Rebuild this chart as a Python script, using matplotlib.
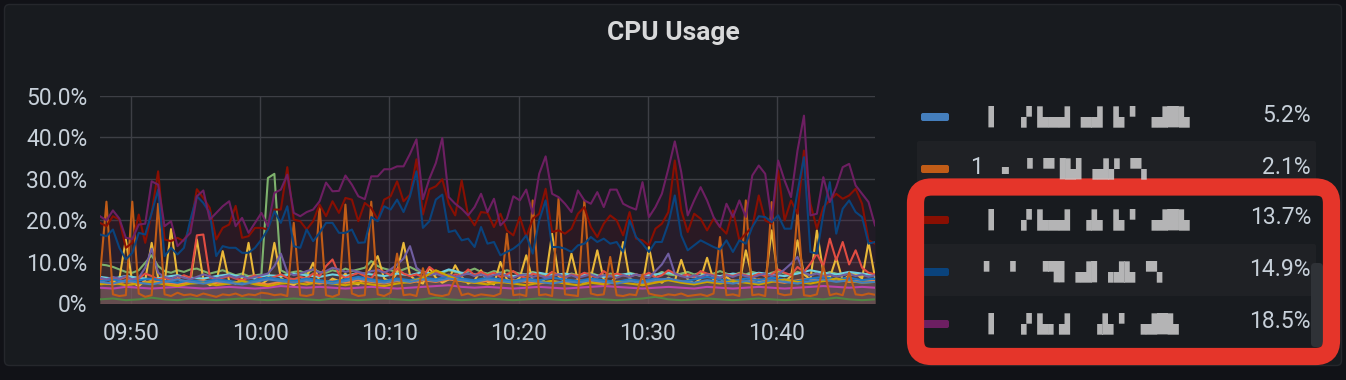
import numpy as np
import pandas as pd
import matplotlib
import matplotlib.pyplot as plt
import matplotlib.dates as mdates
from matplotlib.patches import FancyBboxPatch

plt.switch_backend('Agg')

# ---- data (CPU %) ----
# 30 s samples starting 09:47:36
t_fast = pd.date_range('2021-06-01 09:47:36', periods=121, freq='30s')
# 60 s samples for the quiet background series
t_slow = pd.date_range('2021-06-01 09:47:36', periods=61, freq='60s')

green = [9.4, 9.2, 8.8, 8.2, 7.6, 7.4, 8.0, 9.8, 11.6, 9.0,
         7.8, 7.4, 8.0, 7.6, 8.2, 8.4, 7.8, 7.2, 7.6, 8.0,
         7.4, 6.8, 7.2, 6.6, 6.8, 7.0, 30.2, 31.2, 8.0, 7.2,
         7.6, 7.8, 7.2, 8.2, 7.6, 7.4, 8.0, 7.6, 8.4, 7.8,
         8.2, 8.6, 10.2, 9.0, 8.4, 8.0, 7.6, 8.2, 8.8, 8.0,
         7.6, 7.2, 7.8, 7.4, 8.0, 7.6, 7.2, 7.8, 8.4, 7.6,
         7.2, 7.8, 7.4, 8.0, 7.6, 7.2, 7.0, 7.6, 7.2, 6.8,
         7.4, 7.0, 6.6, 7.2, 6.8, 7.0, 7.4, 6.8, 6.6, 7.2,
         7.0, 6.8, 7.4, 7.0, 6.6, 7.2, 6.8, 7.6, 7.0, 6.8,
         7.2, 7.6, 7.0, 7.4, 6.8, 7.2, 7.8, 7.2, 6.8, 7.4,
         7.0, 7.6, 7.2, 6.8, 7.4, 7.8, 7.2, 7.0, 7.6, 7.2,
         6.8, 7.4, 7.0, 7.6, 7.2, 6.8, 7.4, 7.0, 6.6, 7.2, 7.0]

yellow = [5.5, 4.8, 5.2, 6.0, 15.4, 5.0, 4.2, 5.6, 14.6, 6.2,
          5.0, 17.9, 6.4, 4.6, 5.2, 15.4, 5.8, 4.4, 5.0, 12.6,
          5.4, 4.8, 6.0, 14.6, 5.2, 4.6, 5.8, 14.6, 6.2, 5.0,
          4.4, 5.6, 6.4, 9.8, 5.2, 4.8, 6.0, 5.4, 7.2, 5.0,
          4.6, 6.2, 8.8, 11.4, 6.0, 5.2, 7.4, 14.6, 6.8, 5.4,
          4.8, 8.6, 6.2, 5.0, 5.8, 9.2, 6.4, 4.8, 5.6, 8.0,
          5.2, 4.6, 10.0, 5.8, 5.0, 6.2, 11.6, 5.4, 4.8, 6.0,
          16.8, 6.6, 5.2, 12.0, 5.6, 4.8, 6.2, 12.8, 5.8, 5.0,
          6.4, 14.8, 6.0, 5.2, 4.6, 13.6, 5.8, 5.0, 6.2, 5.4,
          10.5, 5.8, 4.8, 6.0, 11.0, 5.6, 5.0, 6.4, 5.2, 4.8,
          12.8, 6.2, 5.4, 5.0, 17.6, 6.0, 5.2, 6.6, 15.2, 7.0,
          5.8, 17.6, 7.4, 6.2, 11.0, 5.6, 6.8, 7.2, 6.0, 14.8, 6.2]

cyan = [6.4, 6.0, 6.6, 6.2, 5.8, 6.4, 6.8, 6.2, 6.0, 6.6,
        7.0, 6.4, 6.2, 6.8, 6.6, 7.2, 6.8, 6.4, 7.0, 6.6,
        7.4, 7.0, 6.6, 7.2, 6.8, 7.6, 7.0, 8.2, 7.4, 7.0,
        6.8, 7.2, 6.6, 7.0, 7.4, 6.8, 7.2, 6.6, 7.0, 6.4,
        6.8, 7.2, 6.6, 7.0, 7.4, 6.8, 6.4, 7.0, 6.6, 7.2,
        6.8, 7.4, 7.0, 6.6, 7.2, 8.0, 7.4, 7.0, 7.6, 7.2, 6.8]

light_orange = [5.0, 4.6, 5.2, 4.8, 5.4, 5.0, 4.6, 5.2, 5.6, 5.0,
                4.8, 5.4, 5.0, 4.6, 5.2, 5.8, 5.2, 4.8, 5.4, 5.0,
                5.6, 5.2, 4.8, 5.4, 5.0, 5.6, 5.2, 5.8, 5.4, 5.0,
                5.4, 5.0, 5.6, 5.2, 4.8, 5.4, 5.0, 5.6, 5.2, 4.8,
                5.2, 5.6, 5.0, 5.4, 5.8, 5.2, 4.8, 5.4, 5.0, 5.6,
                5.2, 5.8, 5.4, 5.0, 5.6, 6.0, 5.4, 5.8, 5.2, 5.6, 5.4]

red = [6.0, 5.6, 6.2, 5.8, 6.4, 5.4, 6.0, 7.2, 6.6, 5.8,
       6.2, 5.6, 6.0, 6.8, 6.2, 16.4, 16.6, 6.4, 5.8, 6.2,
       6.6, 6.0, 5.6, 6.2, 6.8, 6.0, 5.8, 6.4, 7.0, 6.2,
       5.8, 6.4, 6.0, 7.2, 6.6, 9.0, 10.6, 7.0, 6.2, 6.8,
       7.4, 6.6, 6.0, 8.2, 7.6, 6.8, 8.4, 7.2, 6.6, 7.0,
       6.4, 8.8, 7.6, 6.8, 6.2, 7.0, 6.6, 8.2, 6.8, 7.6,
       6.8, 7.4, 6.4, 7.0, 7.8, 6.6, 6.2, 7.2, 6.8, 6.4,
       7.6, 6.8, 6.2, 7.0, 6.6, 7.4, 6.8, 6.2, 7.8, 6.6,
       7.2, 6.8, 6.4, 7.0, 6.6, 7.4, 6.2, 6.8, 8.0, 7.2,
       6.6, 7.0, 6.4, 7.8, 7.2, 6.8, 6.2, 7.0, 6.6, 7.2,
       6.8, 6.4, 7.2, 6.6, 7.0, 8.2, 7.4, 6.8, 8.8, 7.6,
       9.6, 12.0, 9.0, 15.6, 10.4, 14.8, 9.4, 12.8, 8.6, 7.4, 7.0]

blue = [5.4, 5.8, 5.2, 5.6, 6.0, 5.4, 5.0, 5.6, 5.2, 5.8,
        5.4, 5.0, 5.6, 6.2, 5.8, 5.4, 6.0, 5.6, 5.2, 5.8,
        6.4, 5.8, 5.4, 6.0, 5.6, 6.2, 5.8, 6.6, 6.0, 5.6,
        6.2, 5.8, 5.4, 6.0, 5.6, 6.2, 5.8, 5.4, 6.0, 5.6,
        5.2, 5.8, 5.4, 6.0, 5.6, 5.2, 5.8, 6.4, 5.8, 5.4,
        6.0, 5.6, 6.2, 5.8, 5.4, 6.0, 6.4, 5.8, 6.2, 5.6, 6.0]

pink = [3.8, 3.6, 4.0, 3.8, 3.6, 3.8, 4.0, 3.8, 3.6, 3.8,
        4.0, 3.8, 3.6, 3.8, 4.2, 4.0, 3.8, 4.0, 3.8, 3.6,
        3.8, 4.0, 3.8, 3.6, 3.8, 4.0, 4.2, 4.4, 4.0, 3.8,
        4.0, 3.8, 3.6, 3.8, 4.0, 3.8, 3.6, 3.8, 4.0, 4.2,
        4.0, 3.8, 3.6, 3.8, 4.0, 3.8, 3.6, 4.0, 3.8, 3.6,
        3.8, 4.0, 3.8, 3.6, 3.8, 4.0, 4.2, 4.0, 3.8, 4.0, 3.8]

violet = [6.2, 5.8, 6.4, 6.0, 6.6, 5.8, 6.2, 8.6, 13.2, 7.4,
          6.4, 6.0, 6.6, 6.2, 5.8, 6.4, 7.0, 6.6, 6.0, 6.4,
          6.8, 6.2, 6.6, 6.0, 6.4, 6.8, 7.2, 9.0, 12.0, 7.6,
          6.8, 7.2, 7.8, 8.2, 7.4, 7.8, 8.6, 8.2, 7.6, 8.0,
          7.6, 7.2, 7.8, 8.0, 7.4, 8.2, 9.4, 10.8, 13.8, 8.6,
          7.4, 6.8, 7.2, 6.6, 7.0, 6.4, 6.8, 7.2, 6.6, 7.0,
          6.4, 6.8, 7.2, 6.6, 6.2, 6.8, 7.0, 6.4, 6.8, 6.2,
          6.6, 7.0, 6.4, 6.8, 6.2, 6.6, 7.0, 6.4, 6.8, 6.6,
          6.2, 6.8, 6.4, 7.0, 6.6, 6.2, 7.8, 9.4, 12.0, 7.2,
          6.6, 6.2, 6.8, 6.4, 7.0, 6.6, 6.2, 6.8, 6.4, 7.0,
          6.6, 6.2, 6.8, 7.2, 6.6, 7.0, 8.2, 9.6, 11.2, 7.4,
          6.8, 7.2, 6.6, 7.0, 6.4, 6.8, 7.2, 6.6, 7.0, 6.4, 6.8]

dark_green = [1.0, 1.2, 0.8, 1.0, 1.4, 1.0, 0.8, 1.2, 1.0, 0.8,
              1.0, 1.2, 1.0, 0.8, 1.0, 1.2, 1.0, 0.8, 1.2, 1.0,
              0.8, 1.0, 1.2, 1.0, 0.8, 1.0, 1.4, 1.0, 0.8, 1.0,
              1.2, 1.0, 0.8, 1.0, 1.2, 1.0, 0.8, 1.0, 1.2, 1.0,
              0.8, 1.0, 1.2, 1.6, 1.0, 0.8, 1.0, 1.2, 1.0, 0.8,
              1.0, 1.2, 1.0, 0.8, 1.0, 1.2, 1.0, 1.4, 1.0, 0.8, 1.0]

mustard = [4.6, 5.0, 4.4, 4.8, 5.2, 4.6, 4.2, 4.8, 5.0, 4.4,
           4.8, 5.4, 4.6, 4.2, 4.8, 5.0, 4.6, 5.2, 4.8, 4.4,
           5.0, 4.6, 4.2, 4.8, 5.2, 6.2, 8.0, 6.6, 5.4, 5.0,
           4.6, 5.2, 4.8, 4.4, 5.0, 5.4, 4.8, 4.4, 5.0, 4.6,
           5.2, 4.8, 4.4, 5.0, 5.6, 5.0, 4.6, 5.2, 4.8, 5.4,
           5.0, 4.6, 5.2, 5.8, 5.2, 4.8, 5.4, 6.0, 5.4, 5.0, 5.2]

steel_blue = [5.2, 4.8, 5.6, 5.0, 4.6, 5.2, 5.8, 5.2, 4.8, 5.4,
              5.0, 4.6, 5.2, 5.8, 5.4, 5.0, 5.6, 5.2, 4.8, 5.4,
              6.0, 5.4, 5.0, 5.6, 5.2, 5.8, 5.4, 6.0, 5.6, 5.2,
              5.8, 5.4, 5.0, 5.6, 5.2, 4.8, 5.4, 5.0, 5.6, 5.2,
              4.8, 5.4, 5.0, 5.6, 6.0, 5.4, 5.0, 5.6, 5.2, 4.8,
              5.4, 5.0, 5.6, 5.2, 4.8, 5.4, 5.8, 5.2, 5.6, 5.0, 5.2]

burnt_orange = [6.6, 24.5, 2.2, 1.8, 2.0, 24.5, 2.4, 1.6, 2.0, 24.0,
                2.2, 1.8, 2.6, 2.0, 2.2, 1.8, 2.4, 2.0, 1.6, 2.2,
                2.0, 2.4, 1.8, 2.2, 2.0, 2.6, 2.4, 2.0, 2.2, 1.8,
                19.4, 2.0, 1.8, 2.2, 23.4, 2.0, 1.6, 2.2, 23.8, 2.4,
                1.8, 2.0, 24.5, 2.2, 1.8, 2.6, 12.0, 2.0, 2.2, 1.8,
                8.5, 2.4, 2.0, 1.8, 2.2, 6.0, 2.0, 2.4, 1.8, 2.2,
                2.0, 1.8, 2.4, 16.8, 2.0, 2.2, 1.8, 24.8, 2.0, 2.2,
                1.8, 25.2, 2.2, 2.0, 1.8, 24.8, 2.4, 2.0, 2.2, 11.2,
                2.0, 1.8, 2.2, 2.0, 7.0, 2.4, 2.0, 1.8, 2.2, 2.0,
                2.4, 1.8, 2.0, 2.2, 1.8, 2.4, 16.0, 2.0, 2.2, 1.8,
                24.8, 2.0, 2.2, 1.8, 24.4, 2.4, 2.0, 2.2, 22.4, 2.0,
                1.8, 2.2, 9.0, 2.0, 2.4, 2.0, 7.5, 2.2, 2.0, 2.4, 2.1]

dark_red = [19.4, 18.6, 21.0, 20.2, 13.4, 14.6, 21.4, 14.6, 21.8, 31.8,
            15.4, 15.0, 15.8, 15.0, 18.6, 27.5, 25.4, 23.0, 15.4, 18.2,
            19.0, 23.5, 15.8, 16.2, 18.2, 18.2, 17.8, 22.6, 22.6, 32.8,
            20.2, 19.8, 17.8, 19.8, 23.8, 21.0, 24.6, 21.8, 25.4, 25.0,
            19.8, 24.2, 23.0, 20.2, 25.0, 25.8, 29.4, 24.6, 26.2, 34.7,
            21.4, 27.5, 28.2, 29.9,
            24.0, 21.2, 29.6, 21.2, 18.8, 22.0, 21.8, 18.4, 21.6, 17.6,
            16.4, 20.8, 16.0, 20.4, 21.6, 27.6, 17.2, 17.6, 16.8, 18.0,
            21.6, 23.2, 18.4, 16.0, 19.2, 21.2, 20.0, 16.4, 22.0, 15.6,
            15.2, 14.0, 18.0, 19.2, 22.0, 34.4, 22.4, 17.2, 21.6, 20.4,
            17.6, 20.4, 18.4, 16.8, 22.4, 15.2, 16.8, 18.4, 26.0, 20.0,
            19.2, 32.0, 20.0, 24.8, 21.6, 36.8, 24.0, 18.0, 23.2, 24.8,
            26.4, 25.2, 26.0, 27.6, 24.0, 15.2, 14.4]

navy = [16.6, 16.2, 17.8, 13.4, 10.6, 12.2, 17.0, 16.6, 21.8, 27.4,
        11.4, 13.4, 11.8, 13.4, 20.2, 25.8, 24.2, 21.8, 11.4, 13.8,
        13.4, 13.4, 12.2, 12.2, 13.4, 15.4, 17.8, 22.2, 19.4, 23.4,
        13.8, 13.4, 17.8, 15.0, 17.0, 19.4, 19.4, 17.0, 17.0, 17.8,
        14.6, 14.7, 20.8, 19.8, 23.4, 22.6, 25.0, 22.0, 25.8, 31.8,
        18.2, 19.8, 25.0, 26.2,
        17.2, 17.6, 15.2, 15.6, 13.6, 18.4, 14.4, 14.8, 11.6, 12.4,
        13.2, 14.4, 16.4, 12.0, 20.0, 24.8, 13.6, 13.6, 13.2, 12.4,
        14.0, 14.4, 16.0, 14.8, 15.6, 14.4, 14.8, 12.4, 20.0, 16.0,
        14.4, 12.4, 14.8, 14.8, 19.2, 26.0, 16.4, 12.8, 14.0, 15.2,
        14.4, 13.6, 13.0, 15.2, 12.4, 15.2, 14.4, 18.4, 21.0, 20.8,
        19.6, 21.2, 18.0, 18.0, 26.8, 35.2, 12.4, 12.0, 21.6, 29.2,
        16.8, 22.8, 24.8, 22.0, 20.8, 14.4, 14.8]

plum = [21.0, 20.0, 22.4, 20.4, 15.8, 15.5, 19.0, 19.2, 29.4, 28.6,
        18.6, 19.8, 13.8, 15.4, 17.0, 25.8, 27.2, 20.2, 21.8, 23.4,
        24.6, 18.6, 20.6, 17.0, 19.4, 21.8, 18.6, 26.6, 27.4, 31.0,
        21.8, 21.0, 22.0, 22.6, 24.6, 29.1, 27.0, 27.1, 30.8, 28.6,
        25.8, 25.1, 30.6, 30.6, 32.3, 32.3, 33.0, 33.0, 36.0, 39.5,
        25.1, 30.0, 33.8, 39.8,
        25.6, 24.0, 22.8, 21.2, 23.2, 26.4, 22.0, 25.2, 18.8, 20.4,
        25.8, 24.8, 27.4, 21.6, 31.2, 35.4, 26.4, 25.6, 24.0, 22.0,
        27.2, 24.8, 24.0, 26.8, 23.2, 27.4, 27.4, 24.0, 23.2, 22.6,
        29.2, 20.8, 23.2, 26.4, 32.4, 39.0, 31.6, 21.2, 24.8, 28.0,
        24.8, 20.8, 18.4, 24.0, 20.8, 24.8, 20.8, 30.8, 33.2, 31.2,
        20.0, 34.4, 29.6, 25.6, 36.8, 45.2, 21.2, 21.6, 30.4, 24.4,
        28.0, 32.8, 33.6, 28.4, 26.4, 24.4, 18.8]

# grafana classic palette, in series order
colors = ['#7EB26D', '#EAB839', '#6ED0E0', '#EF843C', '#E24D42',
          '#1F78C1', '#BA43A9', '#705DA0', '#508642', '#CCA300',
          '#447EBC', '#C15C17', '#890F02', '#0A437C', '#6D1F62']
series = [(t_fast, green), (t_fast, yellow), (t_slow, cyan),
          (t_slow, light_orange), (t_fast, red), (t_slow, blue),
          (t_slow, pink), (t_fast, violet), (t_slow, dark_green),
          (t_slow, mustard), (t_slow, steel_blue), (t_fast, burnt_orange),
          (t_fast, dark_red), (t_fast, navy), (t_fast, plum)]

# legend (last five series, the rest is scrolled away)
legend_colors = colors[10:]
legend_values = ['5.2%', '2.1%', '13.7%', '14.9%', '18.5%']
legend_names = ['\u2590  \u2597\u2598\u2599\u2584\u259f \u2584\u259f \u2599\u259d \u2597\u259f\u2588\u2599',
                '\u25aa \u259d \u2580\u2590\u2599\u258c\u2597\u259f\u259e \u2580\u2596',
                '\u2590  \u2597\u2598\u2599\u2584\u259f \u2597\u2599 \u2599\u259d \u2597\u259f\u2588\u2599',
                '\u2598 \u259d  \u259d\u259c\u258c\u2597\u259f\u258c\u2597\u259f\u2599 \u2580\u2596',
                '\u2590  \u2597\u2598\u2599\u2596\u259f  \u2597\u2599\u259d \u2597\u259f\u2588\u2599']

W, H = 1346, 380
TXT = '#c7d0d9'
FONT = ['Roboto', 'DejaVu Sans']

fig = plt.figure(figsize=(W / 100, H / 100), dpi=100)
fig.patch.set_facecolor('#111217')

# background layer in pixel coordinates
bg = fig.add_axes([0, 0, 1, 1], zorder=0)
bg.set_xlim(0, W)
bg.set_ylim(H, 0)
bg.axis('off')
bg.add_patch(FancyBboxPatch((4.5, 4.5), 1337, 361,
                            boxstyle='round,pad=0,rounding_size=5',
                            facecolor='#181b1f', edgecolor='#25272c', lw=1))
bg.text(673, 33, 'CPU Usage', ha='center', va='center', color='#d8d9da',
        fontsize=19, fontweight='bold', family=FONT)

# legend rows
row_y = [115, 167, 218, 270, 322]
for k in (1, 3):
    bg.add_patch(FancyBboxPatch((917, row_y[k] - 26), 399, 52,
                                boxstyle='round,pad=0,rounding_size=2',
                                facecolor='#1f2125', edgecolor='none'))
for k in range(5):
    bg.add_patch(FancyBboxPatch((921, row_y[k] - 2), 28, 8,
                                boxstyle='round,pad=0,rounding_size=2',
                                facecolor=legend_colors[k], edgecolor='none'))
    bg.text(1311, row_y[k], legend_values[k], ha='right', va='center',
            color=TXT, fontsize=16.5, family=FONT)
    x0 = 1000 if k == 1 else 983
    bg.text(x0, row_y[k] + 1, legend_names[k], ha='left', va='center',
            color='#d0d0d0', alpha=0.85, fontsize=13, family='DejaVu Sans Mono')
bg.text(970, row_y[1] + 1, '1', ha='left', va='center', color=TXT,
        fontsize=16.5, family=FONT)

# scrollbar + red highlight frame
bg.add_patch(FancyBboxPatch((1311, 263), 12, 84,
                            boxstyle='round,pad=0,rounding_size=4',
                            facecolor='#2f3237', edgecolor='none'))
bg.add_patch(FancyBboxPatch((915.5, 187), 416, 169.5,
                            boxstyle='round,pad=0,rounding_size=16',
                            facecolor='none', edgecolor='#e5352a', lw=12.4))

# plot area
ax = fig.add_axes([100 / W, 1 - 303.5 / H, 775 / W, 207.8 / H], zorder=1)
ax.set_facecolor('none')
for (t, v), c in zip(series, colors):
    ax.plot(t, v, color=c, lw=1.5, zorder=3)
    ax.fill_between(t, v, 0, color=c, alpha=0.1, lw=0, zorder=2)

ax.set_xlim(t_fast[0], t_fast[-1])
ax.set_ylim(0, 50)
ax.set_yticks([0, 10, 20, 30, 40, 50])
ax.set_yticklabels(['0%', '10.0%', '20.0%', '30.0%', '40.0%', '50.0%'])
ax.xaxis.set_major_locator(mdates.MinuteLocator(byminute=range(0, 60, 10)))
ax.xaxis.set_major_formatter(mdates.DateFormatter('%H:%M'))
ax.grid(True, color='#3d3f45', lw=1, zorder=1)
ax.set_axisbelow(True)
for s in ax.spines.values():
    s.set_visible(False)
ax.tick_params(axis='both', length=0, colors=TXT, labelsize=16.5)
ax.tick_params(axis='y', pad=9)
ax.tick_params(axis='x', pad=13)
for lbl in ax.get_xticklabels() + ax.get_yticklabels():
    lbl.set_family(FONT)

plt.savefig('out.png', dpi=100, facecolor=fig.get_facecolor())
plt.close()
